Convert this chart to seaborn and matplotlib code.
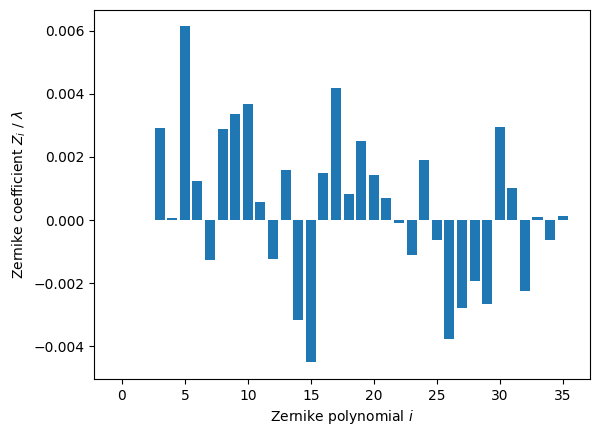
import numpy as np
import pandas as pd
import matplotlib
matplotlib.use("Agg")
import matplotlib.pyplot as plt
import seaborn as sns

# Zernike coefficient per polynomial index (in waves)
index = list(range(36))
coeff = [0.0, 0.0, 0.0,
         0.00293, 0.00005, 0.00614, 0.00125, -0.00128, 0.00287, 0.00335,
         0.00367, 0.00056, -0.00124, 0.00160, -0.00318, -0.00451, 0.00148,
         0.00417, 0.00084, 0.00249, 0.00144, 0.00071, -0.00010, -0.00112,
         0.00189, -0.00064, -0.00378, -0.00280, -0.00194, -0.00267, 0.00294,
         0.00100, -0.00226, 0.00008, -0.00064, 0.00014]

df = pd.DataFrame({"i": index, "Z": coeff})

fig = plt.figure(figsize=(5.99, 4.36), dpi=100)
ax = fig.add_axes([0.1574, 0.1307, 0.8281, 0.8473])
sns.barplot(data=df, x="i", y="Z", native_scale=True, color="#1f77b4",
            saturation=1, width=0.8, errorbar=None, ax=ax)
ax.set_xlim(-2.19, 37.19)
ax.set_ylim(-0.00504, 0.00667)
ax.set_xticks([0, 5, 10, 15, 20, 25, 30, 35])
ax.set_xlabel("Zernike polynomial $i$")
ax.set_ylabel("Zernike coefficient $Z_i$ / $\\lambda$")
fig.savefig("out.png", dpi=100)
